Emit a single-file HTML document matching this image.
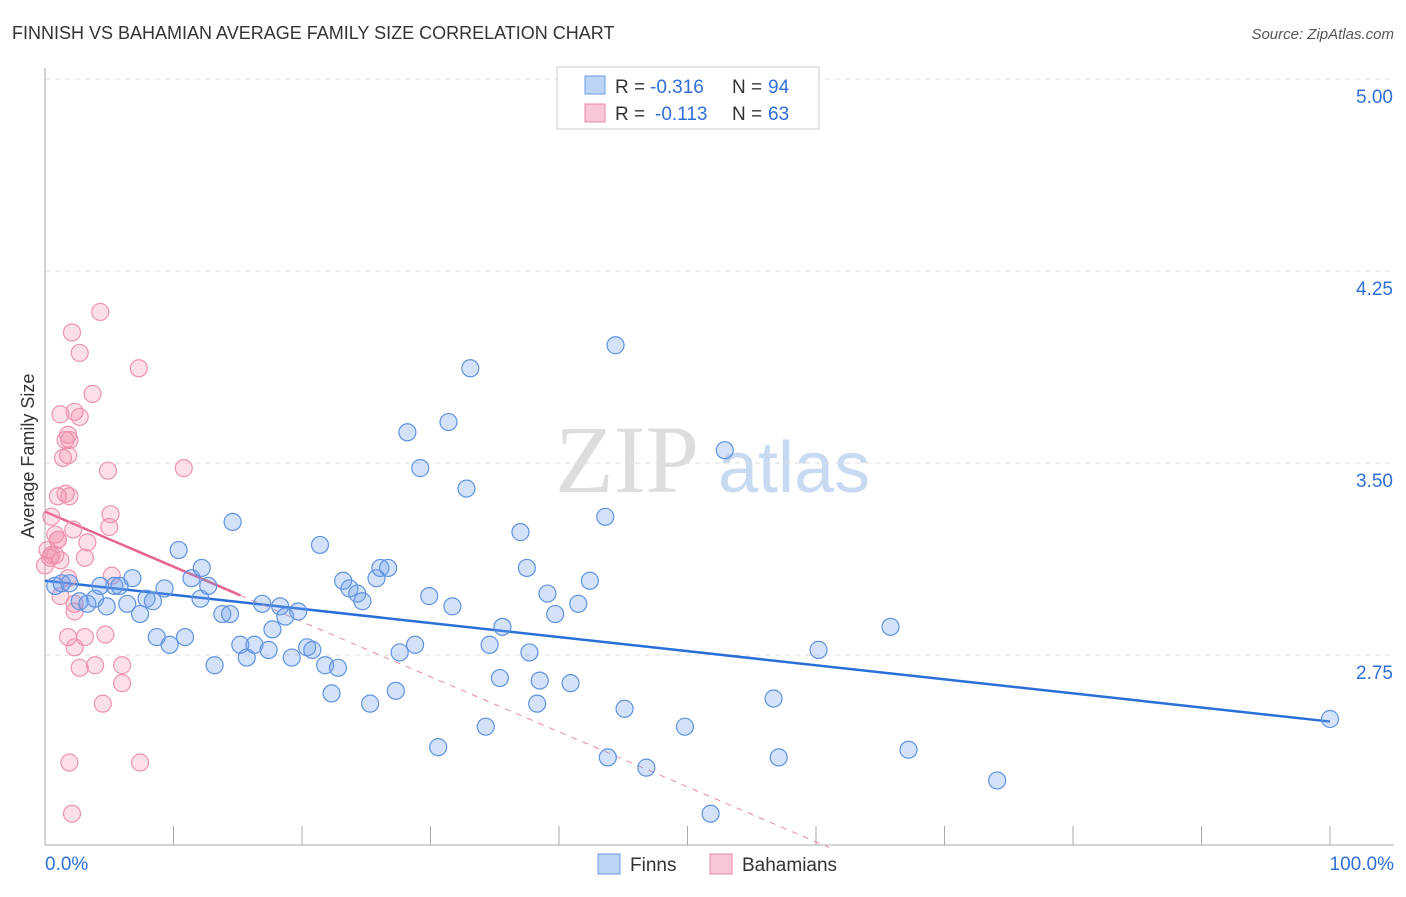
<!DOCTYPE html>
<html><head><meta charset="utf-8"><style>
body{margin:0;background:#fff;font-family:"Liberation Sans",sans-serif}
</style></head><body>
<svg width="1406" height="892" xmlns="http://www.w3.org/2000/svg" font-family="Liberation Sans, sans-serif">
<text x="12" y="39" font-size="18" fill="#333">FINNISH VS BAHAMIAN AVERAGE FAMILY SIZE CORRELATION CHART</text>
<text x="1394" y="39" font-size="15" fill="#555" text-anchor="end" font-style="italic">Source: ZipAtlas.com</text>
<g><text x="555" y="492" font-size="96" fill="#ddd" font-family="Liberation Serif, serif">ZIP</text><text x="718" y="492" font-size="72" fill="#c8daf2">atlas</text></g>
<g id="grid"></g>
<g id="axes"></g>
<text transform="translate(34,456) rotate(-90)" font-size="18" fill="#333" text-anchor="middle">Average Family Size</text>
<g id="trend"></g>
<g id="pts"></g>
<g>
<rect x="557" y="67" width="262" height="62" fill="#fff" stroke="#ccc"/>
<rect x="585" y="76" width="20" height="18" fill="#bcd4f5" stroke="#6a9be0"/>
<rect x="585" y="104" width="20" height="18" fill="#f9c6d5" stroke="#e88aa5"/>
<text x="615" y="93" font-size="19" fill="#333">R =</text>
<text x="650" y="93" font-size="19" fill="#2f6fd8">-0.316</text>
<text x="732" y="93" font-size="19" fill="#333">N =</text>
<text x="768" y="93" font-size="19" fill="#2f6fd8">94</text>
<text x="615" y="120" font-size="19" fill="#333">R =</text>
<text x="655" y="120" font-size="19" fill="#2f6fd8">-0.113</text>
<text x="732" y="120" font-size="19" fill="#333">N =</text>
<text x="768" y="120" font-size="19" fill="#2f6fd8">63</text>
</g>
<g>
<rect x="598" y="854" width="22" height="20" fill="#bcd4f5" stroke="#6a9be0"/>
<text x="630" y="871" font-size="19" fill="#333">Finns</text>
<rect x="710" y="854" width="22" height="20" fill="#f9c6d5" stroke="#e88aa5"/>
<text x="742" y="871" font-size="19" fill="#333">Bahamians</text>
</g>
</svg>
<script>
const yTicks=[5.00,4.25,3.50,2.75];
const yTickLabels=["5.00","4.25","3.50","2.75"];
const xTickLabels=["0.0%","100.0%"];
const finnsX=[0.8,1.3,1.9,2.7,3.3,3.9,4.3,4.8,5.4,5.8,6.4,6.8,7.4,7.9,8.4,8.7,9.3,9.7,10.4,10.9,11.4,12.1,12.2,12.7,13.2,13.8,14.4,14.6,15.2,15.7,16.3,16.9,17.4,17.7,18.3,18.7,19.2,19.7,20.4,20.8,21.4,21.8,22.3,22.8,23.2,23.7,24.3,24.7,25.3,25.8,26.1,26.7,27.3,27.6,28.2,28.8,29.2,29.9,30.6,31.4,31.7,32.8,33.1,34.3,34.6,35.4,35.6,37.0,37.5,37.7,38.3,38.5,39.1,39.7,40.9,41.5,42.4,43.6,43.8,44.4,45.1,46.8,49.8,51.8,52.9,56.7,57.1,60.2,65.8,67.2,74.1,100];
const finnsY=[3.02,3.03,3.03,2.96,2.95,2.97,3.02,2.94,3.02,3.02,2.95,3.05,2.91,2.97,2.96,2.82,3.01,2.79,3.16,2.82,3.05,2.97,3.09,3.02,2.71,2.91,2.91,3.27,2.79,2.74,2.79,2.95,2.77,2.85,2.94,2.90,2.74,2.92,2.78,2.77,3.18,2.71,2.60,2.70,3.04,3.01,2.99,2.96,2.56,3.05,3.09,3.09,2.61,2.76,3.62,2.79,3.48,2.98,2.39,3.66,2.94,3.40,3.87,2.47,2.79,2.66,2.86,3.23,3.09,2.76,2.56,2.65,2.99,2.91,2.64,2.95,3.04,3.29,2.35,3.96,2.54,2.31,2.47,2.13,3.55,2.58,2.35,2.77,2.86,2.38,2.26,2.50];
const bahX=[4.3,2.1,2.7,7.3,3.7,1.2,2.3,2.7,1.6,1.8,1.9,1.4,1.8,4.9,1.0,1.6,1.9,10.8,0.5,5.1,5.0,2.2,1.0,3.3,0.2,0.4,0.8,1.2,0,3.1,5.2,1.8,1.2,2.3,4.7,3.1,1.8,2.3,2.7,3.9,6.0,4.5,6.0,2.3,1.9,7.4,2.1,0.8,0.5,1.0];
const bahY=[4.09,4.01,3.93,3.87,3.77,3.69,3.70,3.68,3.59,3.61,3.59,3.52,3.53,3.47,3.37,3.38,3.37,3.48,3.29,3.30,3.25,3.24,3.20,3.19,3.16,3.13,3.14,3.12,3.10,3.13,3.06,3.05,2.98,2.95,2.83,2.82,2.82,2.78,2.70,2.71,2.71,2.56,2.64,2.92,2.33,2.33,2.13,3.22,3.14,3.20];
const finnsTrend=[3.04,2.49];
const bahTrend=[3.31,1.16];
const X0=45,X1=1330,Y5=79,PPU=256;
const xs=v=>X0+(X1-X0)*v/100, ys=v=>Y5+(5-v)*PPU;
const NS="http://www.w3.org/2000/svg";
function mk(p,t,a){const e=document.createElementNS(NS,t);for(const k in a)e.setAttribute(k,a[k]);p.appendChild(e);return e;}
const grid=document.getElementById('grid'),axes=document.getElementById('axes');
yTicks.forEach((v,i)=>{
 const l=mk(grid,'line',{x1:45,x2:1394,y1:ys(v),y2:ys(v),stroke:'#ddd','stroke-dasharray':'5,5'});
 
 
 const t=mk(axes,'text',{x:1393,y:ys(v)+24,'font-size':19,fill:'#2f6fd8','text-anchor':'end'});
 t.textContent=yTickLabels[i];
 
 
});
mk(axes,'line',{x1:45,x2:45,y1:68,y2:845,stroke:'#aaa'});
mk(axes,'line',{x1:45,x2:1394,y1:845,y2:845,stroke:'#aaa'});
for(let i=0;i<=10;i++){const x=xs(i*10);mk(axes,'line',{x1:x,x2:x,y1:826,y2:845,stroke:'#aaa'});}
[[0,69,'start'],[100,1394,'end']].forEach((d,i)=>{const t=mk(axes,'text',{x:d[1]-(i?0:24),y:870,'font-size':19,fill:'#2f6fd8','text-anchor':d[2]});t.textContent=xTickLabels[i];});
const pts=document.getElementById('pts');
bahX.forEach((x,i)=>{const c=mk(pts,'circle',{cx:xs(x),cy:ys(bahY[i]),r:8.5,fill:'rgba(244,140,170,0.28)',stroke:'#ec94ad','stroke-width':1.2});
 
 });
finnsX.forEach((x,i)=>{const c=mk(pts,'circle',{cx:xs(x),cy:ys(finnsY[i]),r:8.5,fill:'rgba(110,160,235,0.3)',stroke:'#5f93e0','stroke-width':1.2});
 
 });
const tr=document.getElementById('trend');
const bt=mk(tr,'line',{x1:xs(0),y1:ys(finnsTrend[0]),x2:xs(100),y2:ys(finnsTrend[1]),stroke:'#2a6fd8','stroke-width':2.5});


const slope=(bahTrend[1]-bahTrend[0])/100;
const pt=mk(tr,'line',{x1:xs(0),y1:ys(bahTrend[0]),x2:xs(15.2),y2:ys(bahTrend[0]+slope*15.2),stroke:'#e4638c','stroke-width':2.5});


const pd=mk(tr,'line',{x1:xs(15.2),y1:ys(bahTrend[0]+slope*15.2),x2:xs(61),y2:ys(bahTrend[0]+slope*61),stroke:'#e88aa5','stroke-width':1,'stroke-dasharray':'6,6'});


</script>
</body></html>
